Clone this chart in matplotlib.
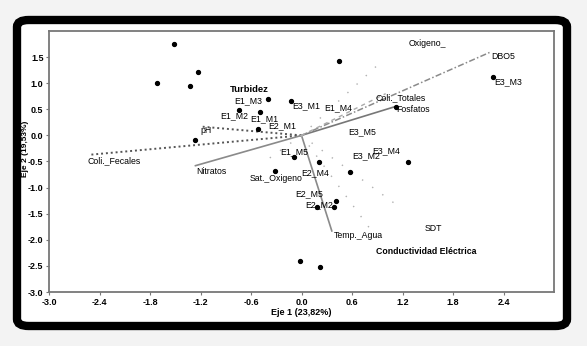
import matplotlib.pyplot as plt
from matplotlib.patches import FancyBboxPatch

plt.rcParams['font.family'] = ['Liberation Sans', 'DejaVu Sans']

# sample scores (black dots)
pt_x = [-1.51, -1.23, -1.72, -1.32, -0.40, -0.74, -0.49, -0.52, -1.26, -0.13,
        0.45, 1.12, 2.28, -0.09, 0.21, 1.26, -0.31, 0.58, 0.41, 0.39, 0.18,
        -0.02, 0.22]
pt_y = [1.76, 1.22, 1.01, 0.94, 0.69, 0.49, 0.45, 0.12, -0.08, 0.66,
        1.42, 0.54, 1.11, -0.42, -0.51, -0.51, -0.69, -0.71, -1.25, -1.38, -1.38,
        -2.40, -2.52]

# sample labels
site_names = ['E1_M3', 'E1_M2', 'E1_M1', 'E2_M1', 'E3_M1', 'E1_M4', 'E3_M5',
              'E3_M2', 'E3_M4', 'E3_M3', 'E1_M5', 'E2_M4', 'E2_M5', 'E2_M2']
site_x = [-0.80, -0.96, -0.61, -0.39, -0.11, 0.27, 0.55, 0.60, 0.84, 2.29,
          -0.25, 0.00, -0.08, 0.04]
site_y = [0.67, 0.37, 0.32, 0.19, 0.56, 0.54, 0.08, -0.38, -0.29, 1.03,
          -0.32, -0.72, -1.12, -1.33]

# environmental vectors (end points) and styles
vec_names = ['Coli._Fecales', 'pH', 'Nitratos', 'Fosfatos', 'DBO5', 'Coli._Totales',
             'Temp._Agua', 'Oxigeno_', 'SDT', 'Conductividad Eléctrica', 'Sat._Oxigeno']
vec_x = [-2.51, -1.20, -1.26, 1.13, 2.25, 1.00, 0.36, 0.98, 1.18, 0.91, -0.48]
vec_y = [-0.37, 0.17, -0.58, 0.56, 1.60, 0.80, -1.83, 1.46, -1.39, -2.00, -0.55]
vec_ls = [(0, (1, 1.5)), (0, (1, 1.5)), '-', '-', (0, (4, 1.5, 1, 1.5)),
          (0, (3, 3)), '-', (0, (1, 8)), (0, (1, 8)), (0, (1, 8)), (0, (1, 8))]
vec_col = ['#555555', '#555555', '#8a8a8a', '#777777', '#8a8a8a', '#aaaaaa',
           '#8a8a8a', '#b0b0b0', '#b0b0b0', '#b0b0b0', '#b0b0b0']
vec_lw = [1.4, 1.4, 1.2, 1.2, 1.1, 1.0, 1.2, 1.0, 1.0, 1.0, 1.0]
lab_x = [-2.54, -1.20, -1.25, 1.12, 2.26, 0.88, 0.38, 1.27, 1.46, 0.88, -0.62]
lab_y = [-0.48, 0.10, -0.69, 0.50, 1.52, 0.72, -1.92, 1.76, -1.79, -2.23, -0.83]
lab_bold = [False, False, False, False, False, False, False, False, False, True, False]

xticks = [-3.0, -2.4, -1.8, -1.2, -0.6, 0.0, 0.6, 1.2, 1.8, 2.4]
yticks = [-3.0, -2.5, -2.0, -1.5, -1.0, -0.5, 0.0, 0.5, 1.0, 1.5]

fig = plt.figure(figsize=(5.87, 3.46), dpi=100, facecolor='#f3f3f3')

# rounded black frame, behind the axes
frame = FancyBboxPatch((17 / 587, 20 / 346), 550 / 587, 306 / 346,
                       boxstyle='round,pad=0,rounding_size=0.02',
                       transform=fig.transFigure, facecolor='white',
                       edgecolor='black', linewidth=6, zorder=-1)
fig.patches.append(frame)

ax = fig.add_axes([49 / 587, 1 - 292 / 346, 505 / 587, 261 / 346])
ax.set_zorder(1)

for i in range(len(vec_names)):
    ax.plot([0, vec_x[i]], [0, vec_y[i]], linestyle=vec_ls[i], color=vec_col[i],
            linewidth=vec_lw[i], zorder=1)
    ax.text(lab_x[i], lab_y[i], vec_names[i], fontsize=6.3, ha='left', va='center',
            fontweight='bold' if lab_bold[i] else 'normal', zorder=3)

ax.text(-0.85, 0.88, 'Turbidez', fontsize=6.8, fontweight='bold', ha='left', va='center')

ax.plot(pt_x, pt_y, 'o', color='black', markersize=2.8, zorder=2)

for name, x, y in zip(site_names, site_x, site_y):
    ax.text(x, y, name, fontsize=6.3, ha='left', va='center', zorder=3)

ax.set_xlim(-3.0, 3.0)
ax.set_ylim(-3.0, 2.0)
ax.set_xticks(xticks)
ax.set_yticks(yticks)
ax.set_xticklabels(['%.1f' % t for t in xticks])
ax.set_yticklabels(['%.1f' % t for t in yticks])
ax.tick_params(labelsize=6.5, length=2.5, width=0.8, color='#777777', pad=1.5)
for lab in ax.get_xticklabels() + ax.get_yticklabels():
    lab.set_fontweight('bold')
for sp in ax.spines.values():
    sp.set_color('#777777')
    sp.set_linewidth(1.3)

ax.set_xlabel('Eje 1 (23,82%)', fontsize=6.5, fontweight='bold', labelpad=1)
ax.set_ylabel('Eje 2 (19,53%)', fontsize=6, fontweight='bold')
ax.yaxis.set_label_coords(-0.040, 0.55)

fig.savefig('out.png', dpi=100, facecolor=fig.get_facecolor())
